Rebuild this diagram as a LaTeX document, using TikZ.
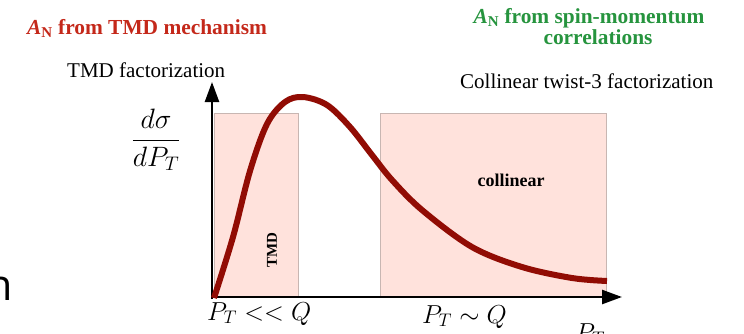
\RequirePackage{fix-cm}
\documentclass[tikz,border=0pt]{standalone}
\usepackage{fontspec}
\setmainfont{Liberation Serif}
\newfontfamily\slidefont{Open Sans}
\usetikzlibrary{arrows.meta}

\definecolor{titlered}{RGB}{196,40,26}
\definecolor{titlegreen}{RGB}{38,148,62}
\definecolor{curvered}{RGB}{145,12,4}
\definecolor{regionfill}{RGB}{255,226,220}
\definecolor{regionline}{RGB}{200,182,178}

\tikzset{
  region/.style={fill=regionfill,draw=regionline,line width=0.8pt},
  axis/.style={line width=2.5pt,-{Triangle[length=20pt,width=14pt]}},
  xsec/.style={line width=6pt,draw=curvered},
  headline/.style={font=\fontsize{21.4}{23}\selectfont\bfseries,inner sep=0pt},
  caption/.style={font=\fontsize{21}{24}\selectfont,inner sep=0pt},
  boxlabel/.style={font=\fontsize{18}{20}\selectfont\bfseries,inner sep=0pt},
  mathlabel/.style={font=\fontsize{26}{30}\selectfont,inner sep=0pt}
}

\begin{document}
\begin{tikzpicture}[x=1pt,y=-1pt]
            \useasboundingbox (0,0) rectangle (744,333);

            % Titles
            \node[headline,text=titlered,anchor=base west] (tmdtitle) at (27,34) {\textit{A}\textsubscript{N} from TMD mechanism};
            \node[headline,text=titlegreen,anchor=base] (spintitle) at (589,23) {\textit{A}\textsubscript{N} from spin-momentum};
            \node[headline,text=titlegreen,anchor=base] (spintitleb) at (598,44) {correlations};
            \node[caption,anchor=base west] (tmdfact) at (67,77) {TMD factorization};
            \node[caption,anchor=base west] (colfact) at (460,88) {Collinear twist-3 factorization};

            % Regions
            \draw[region] (214,113) rectangle (298,297);
            \draw[region] (380,113) rectangle (606,297);
            \node[boxlabel,rotate=90,font=\fontsize{15}{17}\selectfont\bfseries] (tmdbox) at (272,250) {TMD};
            \node[boxlabel] (colbox) at (511,180) {collinear};

            % Axes
            \draw[axis] (212,299) -- (212,82);
            \draw[axis] (211,297) -- (622,297);

            % Cross section
            \draw[xsec] plot[smooth,tension=0.55] coordinates {(214,298) (233,237) (250,171) (267,124) (285,102) (303,97) (327,105) (350,127) (372,155) (392,180) (422,210) (472,247) (522,267) (572,278) (607,281)};

            % Axis labels
            \node[font=\fontsize{28}{32}\selectfont,inner sep=0pt] (ylabel) at (156,140) {$\displaystyle\frac{d\sigma}{dP_T}$};
            \node[mathlabel,anchor=base west] (lowpt) at (207,320) {$P_T << Q$};
            \node[mathlabel,anchor=base west] (highpt) at (422,323) {$P_T \sim Q$};
            \node[mathlabel,anchor=base west] (xlabel) at (575,341) {$P_T$};

            % cut-off letter at the edge
            \node[anchor=base east,inner sep=0pt,font=\fontsize{43}{50}\slidefont] (edgeletter) at (13,300) {n};
\end{tikzpicture}
\end{document}
